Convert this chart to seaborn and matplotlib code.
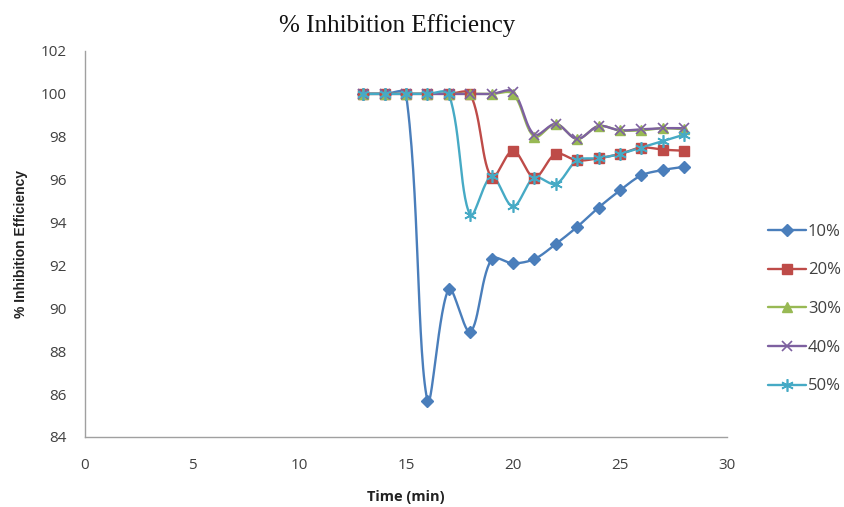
import numpy as np
import pandas as pd
import matplotlib
matplotlib.use("Agg")
import matplotlib.pyplot as plt
import seaborn as sns
from matplotlib.lines import Line2D

# ---- data ----
time_min = [13, 14, 15, 16, 17, 18, 19, 20, 21, 22, 23, 24, 25, 26, 27, 28]
ie_10 = [100, 100, 100, 85.7, 90.9, 88.9, 92.3, 92.1, 92.3, 93.0, 93.8, 94.7, 95.5, 96.2, 96.45, 96.6]
ie_20 = [100, 100, 100, 100, 100, 100, 96.1, 97.35, 96.1, 97.2, 96.9, 97.0, 97.2, 97.5, 97.4, 97.35]
ie_30 = [100, 100, 100, 100, 100, 100, 100, 100, 98.0, 98.6, 97.9, 98.5, 98.3, 98.3, 98.4, 98.35]
ie_40 = [100, 100, 100, 100, 100, 100, 100, 100.1, 98.1, 98.6, 97.9, 98.5, 98.3, 98.35, 98.4, 98.4]
ie_50 = [100, 100, 100, 100, 100, 94.35, 96.15, 94.75, 96.1, 95.8, 96.9, 97.0, 97.2, 97.5, 97.8, 98.1]
series_labels = ["10%", "20%", "30%", "40%", "50%"]
x_ticks = [0, 5, 10, 15, 20, 25, 30]
y_ticks = [84, 86, 88, 90, 92, 94, 96, 98, 100, 102]

series = [ie_10, ie_20, ie_30, ie_40, ie_50]
colors = ["#4A7EBB", "#BE4B48", "#98B954", "#7D60A0", "#46AAC5"]
markers = ["D", "s", "^", "x", (6, 2, 0)]
msizes = [6, 7, 7, 7, 9]


def smooth(xs, ys, n=30, f=1.0 / 3.0):
    """Excel-like smoothed line: Bezier segments with length-weighted tangents."""
    P = np.column_stack([xs, ys]).astype(float)
    m = len(P)
    d = np.linalg.norm(np.diff(P, axis=0), axis=1)
    out = []
    for i in range(m - 1):
        p1, p2 = P[i], P[i + 1]
        if i > 0:
            c1 = p1 + (p2 - P[i - 1]) * f * d[i] / (d[i - 1] + d[i])
        else:
            c1 = p1 + (p2 - p1) * f * 0.5
        if i + 2 < m:
            c2 = p2 - (P[i + 2] - p1) * f * d[i] / (d[i] + d[i + 1])
        else:
            c2 = p2 - (p2 - p1) * f * 0.5
        t = np.linspace(0, 1, n, endpoint=(i == m - 2))[:, None]
        b = ((1 - t) ** 3) * p1 + 3 * ((1 - t) ** 2) * t * c1 + 3 * (1 - t) * t ** 2 * c2 + t ** 3 * p2
        out.append(b)
    out = np.vstack(out)
    return out[:, 0], out[:, 1]


sns.set_theme(style="white")
plt.rcParams["font.family"] = ["Open Sans", "DejaVu Sans"]

fig = plt.figure(figsize=(8.44, 5.07), dpi=100)
ax = fig.add_axes([85 / 844, 1 - 437 / 507, (727 - 85) / 844, (437 - 51) / 507])

handles = []
for ys, lab, c, m, ms in zip(series, series_labels, colors, markers, msizes):
    sx, sy = smooth(time_min, ys)
    sns.lineplot(x=sx, y=sy, ax=ax, color=c, lw=1.7, sort=False, estimator=None)
    mk = dict(marker=m, markersize=ms, linestyle="", color=c)
    if m in ("x", (6, 2, 0)):
        mk.update(markeredgewidth=1.2)
    else:
        mk.update(markeredgecolor=c)
    ax.plot(time_min, ys, **mk, zorder=3)
    handles.append(Line2D([0], [0], color=c, lw=1.7,
                          **{k: v for k, v in mk.items() if k not in ("linestyle", "color")}, label=lab))

ax.set_xlim(0, 30)
ax.set_ylim(84, 102)
ax.set_xticks(x_ticks)
ax.set_yticks(y_ticks)
ax.tick_params(axis="y", labelsize=11, length=0, pad=13)
ax.tick_params(axis="x", labelsize=11, length=0, pad=15)
for lab in ax.get_xticklabels() + ax.get_yticklabels():
    lab.set_color("#404040")
for s in ["top", "right"]:
    ax.spines[s].set_visible(False)
for s in ["left", "bottom"]:
    ax.spines[s].set_color("#A0A0A0")
    ax.spines[s].set_linewidth(1.0)

ax.set_xlabel("Time (min)", fontsize=10.5, fontweight="bold", color="#222222", labelpad=12)
ax.set_ylabel("% Inhibition Efficiency", fontsize=10, fontweight="bold", color="#222222",
              family=["Liberation Sans", "DejaVu Sans"], labelpad=9)

fig.text(397 / 844, 1 - 26 / 507, "% Inhibition Efficiency", ha="center", va="center",
         fontsize=18, family=["Liberation Serif", "DejaVu Serif"], color="#111111")

fig.legend(handles=handles, loc="center left", bbox_to_anchor=(768 / 844, 1 - 309 / 507),
           frameon=False, fontsize=12, labelspacing=1.36, handlelength=2.28, handletextpad=0.12,
           borderpad=0, borderaxespad=0, labelcolor="#404040")

fig.savefig("out.png", dpi=100, facecolor="white")
